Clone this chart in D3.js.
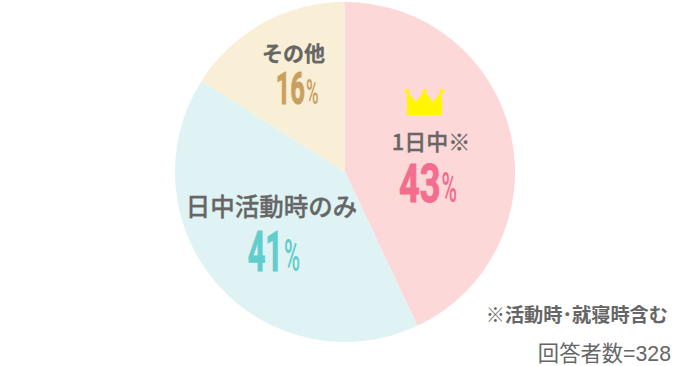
<!DOCTYPE html>
<html>
<head>
    <meta charset="utf-8">
    <style>
        html, body { margin: 0; padding: 0; background: #fff; }
        svg { display: block; }
        text { font-family: "Noto Sans CJK JP", sans-serif; text-anchor: middle; }
        .name { fill: #666; stroke: #666; stroke-width: 0.3px; }
        .pct { font-family: "Roboto", sans-serif; font-weight: 700; }
        .note { fill: #666; text-anchor: end; }
    </style>
</head>
<body>
    <svg id="chart"></svg>

    <script src="https://d3js.org/d3.v7.min.js"></script>
    <script>
        const categories = ["1日中※", "日中活動時のみ", "その他"];
        const values = [43, 41, 16];
        const sliceColors = ["#fdd8d8", "#e0f3f4", "#f8efd6"];
        const pctColors = ["#f36d8e", "#62cdcd", "#c99f5f"];

        const svgWidth = 690;
        const svgHeight = 366;
        const svg = d3.select("svg")
            .attr("width", svgWidth)
            .attr("height", svgHeight);

        const cx = 345, cy = 172, radius = 170;
        const g = svg.append("g")
            .attr("transform", "translate(" + cx + "," + cy + ")");

        const pie = d3.pie().sort(null).value(d => d);
        const path = d3.arc().innerRadius(0).outerRadius(radius);

        g.selectAll(".slice")
            .data(pie(values))
            .enter().append("path")
            .attr("class", "slice")
            .attr("d", path)
            .attr("fill", (d, i) => sliceColors[i]);

        // label spots, one per slice. split = where the digits end and the % starts
        const spots = [
            { x: 431, nameY: 150, nameSize: 22, nameWeight: 500, split: 440.5, pctY: 202, pctSize: 54, squeeze: 0.67 },
            { x: 271.5, nameY: 216, nameSize: 24.5, nameWeight: 500, split: 283, pctY: 271, pctSize: 56, squeeze: 0.55 },
            { x: 293.5, nameY: 61, nameSize: 21, nameWeight: 700, split: 305, pctY: 104, pctSize: 44, squeeze: 0.58 }
        ];

        spots.forEach((s, i) => {
            svg.append("text")
                .attr("class", "name")
                .attr("x", s.x)
                .attr("y", s.nameY)
                .style("font-size", s.nameSize + "px")
                .style("font-weight", s.nameWeight)
                .text(categories[i]);

            svg.append("text")
                .attr("class", "pct")
                .attr("transform", "translate(" + s.split + "," + s.pctY + ") scale(" + s.squeeze + ",1)")
                .attr("fill", pctColors[i])
                .attr("stroke", pctColors[i])
                .attr("stroke-width", 1)
                .style("text-anchor", "end")
                .style("font-size", s.pctSize + "px")
                .text(values[i]);

            svg.append("text")
                .attr("class", "pct")
                .attr("transform", "translate(" + (s.split + 1) + "," + s.pctY + ") scale(0.5,1)")
                .attr("fill", pctColors[i])
                .style("text-anchor", "start")
                .style("font-weight", 500)
                .style("font-size", (s.pctSize * 0.78) + "px")
                .text("%");
        });

        // crown over the top answer
        svg.append("path")
            .attr("d", "M407,115 L407,91 L416,102 L424.500,91 L433,102 L442,91 L442,115 Z")
            .attr("fill", "#fff600");
        svg.selectAll(".tip")
            .data([[407, 91], [424.5, 91], [442, 91]])
            .enter().append("circle")
            .attr("class", "tip")
            .attr("cx", d => d[0])
            .attr("cy", d => d[1])
            .attr("r", 2.2)
            .attr("fill", "#fff600");

        svg.append("text")
            .attr("class", "note")
            .attr("x", 668).attr("y", 322)
            .style("font-size", "19.2px").style("font-weight", 700)
            .attr("fill", "#6e6e6e")
            .text("※活動時･就寝時含む");

        svg.append("text")
            .attr("class", "note")
            .attr("x", 671).attr("y", 361)
            .style("font-family", "'Liberation Sans', 'Noto Sans CJK JP', sans-serif")
            .style("font-size", "21.3px")
            .text("回答者数=328");
    </script>
</body>
</html>
